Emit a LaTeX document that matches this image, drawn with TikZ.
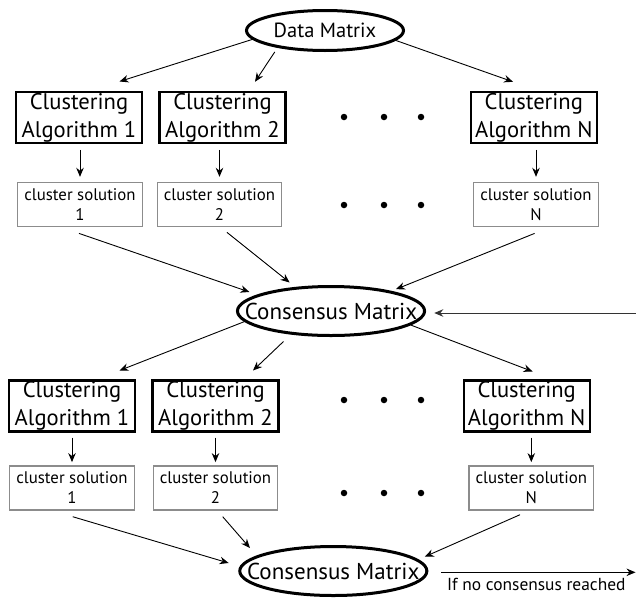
\documentclass[tikz,border=0pt]{standalone}
\usepackage{fontspec}
\setmainfont{PT Sans}
\usetikzlibrary{arrows.meta,positioning,shapes.geometric}
\tikzset{
  >=Stealth,
  every picture/.append style={line width=0.9pt},
}
\tikzset{
  matrixnode/.style={draw, ellipse, line width=3pt, inner xsep=-20pt, inner ysep=0pt, font=\fontsize{23}{27}\selectfont},
  algbox/.style={draw, line width=2.4pt, minimum width=126pt, minimum height=51pt, align=center, inner sep=0pt, font=\fontsize{22.6}{28}\selectfont},
  solbox/.style={draw=black!45, line width=1.4pt, minimum width=124.5pt, minimum height=44pt, align=center, inner sep=0pt, font=\fontsize{16.8}{20}\selectfont},
  arrow/.style={-{Stealth[length=9pt,width=7.5pt]}, line width=0.9pt},
  dot/.style={circle, fill=black, inner sep=0pt, minimum size=6.5pt},
  note/.style={font=\fontsize{17.4}{21}\selectfont, inner sep=0pt},
}

\begin{document}
\begin{tikzpicture}[x=1pt, y=-1pt]
\useasboundingbox (0,0) rectangle (636,600);

% --- Geometry (y runs downwards) ---
\def\yalgA{117.7}
\def\ysolA{204.5}
\def\yalgB{405.8}
\def\ysolB{487.8}

% --- Data matrix ---
\node[matrixnode, minimum width=157pt, minimum height=40pt, font=\fontsize{20.5}{25}\selectfont] (data) at (325,30.5) {Data Matrix};

% --- First round: algorithms and their solutions ---
\foreach \k/\xa/\xs in {1/79/80, 2/222.5/219.5, N/533.8/536} {
  \node[algbox] (algA\k) at (\xa,\yalgA) {Clustering\\Algorithm \k};
  \node[solbox] (solA\k) at (\xs,\ysolA) {cluster solution\\\k};
  \draw[arrow, shorten <=5.5pt, shorten >=5pt] (algA\k.south -| solA\k.north) -- (solA\k.north);
}
\foreach \x in {344,384,421} {
  \node[dot] (dotA\x) at (\x,117) {};
  \node[dot] (dotS\x) at (\x,205) {};
}

\draw[arrow] (data.187) -- ([shift={(40.5,-9.5)}]algA1.north);
\draw[arrow, shorten <=5pt] (data.200) -- ([shift={(32.5,-9.2)}]algA2.north);
\draw[arrow] (data.-8) -- ([shift={(-20.8,-9.2)}]algAN.north);

% --- Consensus matrix ---
\node[matrixnode, minimum width=185pt, minimum height=49pt] (cons1) at (331,311) {Consensus Matrix};

\draw[arrow] ([shift={(-1,6.2)}]solA1.south) -- ([shift={(13.5,-19)}]cons1.west);
\draw[arrow] ([shift={(7.5,5.2)}]solA2.south) -- ([shift={(-41.4,-2.5)}]cons1.north);
\draw[arrow] ([shift={(-1.4,6.2)}]solAN.south) -- ([shift={(65,4.2)}]cons1.north);

% feedback from the last step
\coordinate (back) at (636,313);
\draw[arrow, black!80] (back) -- ([shift={(8.2,2)}]cons1.east);

% --- Second round ---
\foreach \k/\xa/\xs in {1/72/72, 2/215.5/215.5, N/526.7/531.3} {
  \node[algbox] (algB\k) at (\xa,\yalgB) {Clustering\\Algorithm \k};
  \node[solbox] (solB\k) at (\xs,\ysolB) {cluster solution\\\k};
  \draw[arrow, shorten <=5pt, shorten >=3pt] (algB\k.south -| solB\k.north) -- (solB\k.north);
}
\foreach \x in {344,384,421} {
  \node[dot] (dotB\x) at (\x,400) {};
  \node[dot] (dotT\x) at (\x,493) {};
}

\draw[arrow] (cons1.187) -- ([shift={(47.5,-8.6)}]algB1.north);
\draw[arrow] ([shift={(-47.5,4.5)}]cons1.south) -- ([shift={(37.5,-8.6)}]algB2.north);
\draw[arrow] (cons1.-10) -- ([shift={(5.9,-7.6)}]algBN.north);

% --- Final consensus matrix ---
\node[matrixnode, minimum width=184pt, minimum height=49pt] (cons2) at (333.3,571) {Consensus Matrix};

\draw[arrow] ([shift={(0.7,6.2)}]solB1.south) -- ([shift={(-9.6,-8)}]cons2.west);
\draw[arrow] ([shift={(7.2,6.2)}]solB2.south) -- ([shift={(11.7,-23)}]cons2.west);
\draw[arrow] ([shift={(-11.3,4.2)}]solBN.south) -- ([shift={(-3.6,-14.3)}]cons2.east);

\coordinate (exit) at (635.5,572.3);
\draw[arrow] ([shift={(13,1.3)}]cons2.east) -- (exit);
\node[note, anchor=base west] (nolabel) at (446.7,590) {If no consensus reached};

\end{tikzpicture}
\end{document}
